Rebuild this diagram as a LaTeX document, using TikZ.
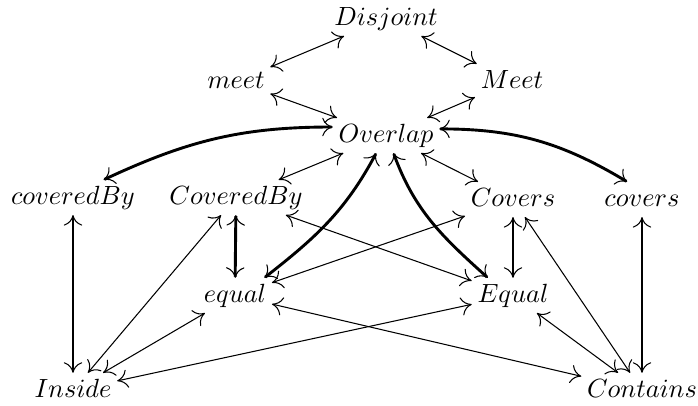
\documentclass[tikz,border=0pt]{standalone}
\usetikzlibrary{arrows.meta}
\tikzset{
  rel/.style={anchor=base, inner sep=2pt, text height=7pt, text depth=2pt},
  link/.style={>={Computer Modern Rightarrow[line width=0.4pt,length=4pt,width=7pt]}, <->, line width=0.4pt},
  strong/.style={link, line width=1.1pt},
}
\begin{document}
\begin{tikzpicture}[x=0.38pt, y=0.38pt]
  \useasboundingbox (0,0) rectangle (698,-405);
  % top
  \node[rel] (dj) at (386,-25) {$Disjoint$};
  \node[rel] (mt) at (236,-88) {$meet$};
  \node[rel] (Mt) at (512,-88) {$Meet$};
  \node[rel] (ov) at (386,-142) {$Overlap$};
  % middle row
  \node[rel] (cb) at (73,-204) {$coveredBy$};
  \node[rel] (Cb) at (236,-204) {$CoveredBy$};
  \node[rel] (Cv) at (513,-206) {$Covers$};
  \node[rel] (cv) at (642,-206) {$covers$};
  \node[rel] (eq) at (235,-302) {$equal$};
  \node[rel] (Eq) at (513,-302) {$Equal$};
  % bottom
  \node[rel] (ins) at (73,-397) {$Inside$};
  \node[rel] (con) at (642,-397) {$Contains$};
  % thin links
  \foreach \a/\b in {dj/mt,dj/Mt,mt/ov,Mt/ov,ov/Cb,ov/Cv,Cb/Eq,Cv/eq,eq/con,ins/Eq,ins/eq,ins/Cb,Cv/con,Eq/con}
    \draw[link] (\a) -- (\b);
  % thick links
  \foreach \a/\b in {cb/ins,Cb/eq,Cv/Eq,cv/con}
    \draw[strong] (\a) -- (\b);
  \draw[strong] (cb.30) to[out=25,in=180] (ov.171);
  \draw[strong] (ov.7) to[out=0,in=149] (cv.130);
  \draw[strong] (eq.31) to[out=38,in=242] (ov.241);
  \draw[strong] (ov.293) to[out=-70,in=138] (Eq.145);
\end{tikzpicture}
\end{document}
